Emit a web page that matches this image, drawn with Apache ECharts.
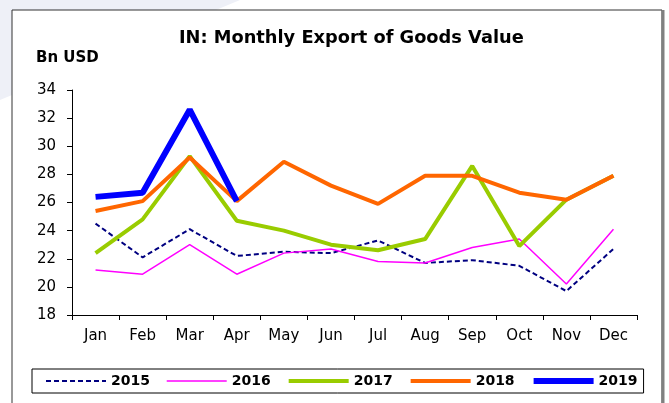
<!DOCTYPE html>
<html>
<head>
<meta charset="utf-8">
<script src="https://cdn.jsdelivr.net/npm/echarts@6/dist/echarts.min.js"></script>
<style>
  html, body { margin: 0; padding: 0; background: #fff; }
  #chart { width: 669px; height: 403px; }
</style>
</head>
<body>
<div id="chart"></div>
<script>
const months = ['Jan', 'Feb', 'Mar', 'Apr', 'May', 'Jun', 'Jul', 'Aug', 'Sep', 'Oct', 'Nov', 'Dec']
const yTicks = { min: 18, max: 34, step: 2 }
const y2015 = [24.5, 22.1, 24.1, 22.2, 22.5, 22.4, 23.3, 21.7, 21.9, 21.5, 19.7, 22.7]
const y2016 = [21.2, 20.9, 23.0, 20.9, 22.4, 22.7, 21.8, 21.7, 22.8, 23.4, 20.2, 24.1]
const y2017 = [22.4, 24.8, 29.3, 24.7, 24.0, 23.0, 22.6, 23.4, 28.6, 22.9, 26.2, 27.9]
const y2018 = [25.4, 26.1, 29.2, 26.1, 28.9, 27.2, 25.9, 27.9, 27.9, 26.7, 26.2, 27.9]
const y2019 = [26.4, 26.7, 32.6, 26.1]

const font = 'DejaVu Sans'

const chart = echarts.init(document.getElementById('chart'), null, { renderer: 'canvas' })

const option = {
  animation: false,
  backgroundColor: '#fff',
  textStyle: { fontFamily: font, color: '#000' },
  graphic: [
    // pale slide background peeking out at the top-left
    {
      type: 'polygon',
      z: -10,
      shape: { points: [[0, 0], [240, 0], [0, 100]] },
      style: { fill: '#eef0f7' }
    },
    {
      type: 'rect',
      z: -5,
      shape: { x: 12, y: 10, width: 650, height: 420 },
      style: { fill: '#fff', stroke: '#333', lineWidth: 1 }
    },
    {
      type: 'line',
      z: -4,
      shape: { x1: 663, y1: 10, x2: 663, y2: 403 },
      style: { stroke: '#808080', lineWidth: 3 }
    }
  ],
  title: [
    {
      text: 'IN: Monthly Export of Goods Value',
      left: 179,
      top: 29,
      padding: 0,
      textStyle: { fontFamily: font, fontSize: 17.8, fontWeight: 'bold', color: '#000' }
    },
    {
      text: 'Bn USD',
      left: 36,
      top: 51,
      padding: 0,
      textStyle: { fontFamily: font, fontSize: 15, fontWeight: 'bold', color: '#000' }
    }
  ],
  legend: {
    left: 32,
    top: 369,
    padding: [5, 6, 5, 13],
    itemGap: 16,
    itemWidth: 60,
    itemHeight: 14,
    borderColor: '#000',
    borderWidth: 1,
    itemStyle: { opacity: 0 },
    textStyle: { fontFamily: font, fontSize: 14, fontWeight: 'bold', color: '#000' },
    data: [
      { name: '2015', lineStyle: { width: 2, type: [5, 3] } },
      { name: '2016', lineStyle: { width: 1.5 } },
      { name: '2017', lineStyle: { width: 4 } },
      { name: '2018', lineStyle: { width: 4 } },
      { name: '2019', lineStyle: { width: 6 } }
    ]
  },
  grid: {
    left: 72,
    right: 32,
    top: 90,
    bottom: 88,
    containLabel: false
  },
  xAxis: {
    type: 'category',
    data: months,
    boundaryGap: true,
    axisLine: { lineStyle: { color: '#000', width: 1 } },
    axisTick: { show: true, inside: false, length: 5, alignWithLabel: false, lineStyle: { color: '#000' } },
    axisLabel: { color: '#000', fontSize: 15, fontFamily: font, margin: 14, interval: 0 },
    splitLine: { show: false }
  },
  yAxis: {
    type: 'value',
    min: yTicks.min,
    max: yTicks.max,
    interval: yTicks.step,
    axisLine: { show: true, lineStyle: { color: '#000', width: 1 } },
    axisTick: { show: true, inside: false, length: 5, lineStyle: { color: '#000' } },
    axisLabel: { color: '#000', fontSize: 15, fontFamily: font, margin: 16 },
    splitLine: { show: false }
  },
  series: [
    {
      name: '2015',
      type: 'line',
      data: y2015,
      showSymbol: false,
      symbol: 'none',
      lineStyle: { color: '#000080', width: 2, type: [5, 3] },
      itemStyle: { color: '#000080' }
    },
    {
      name: '2016',
      type: 'line',
      data: y2016,
      showSymbol: false,
      symbol: 'none',
      lineStyle: { color: '#ff00ff', width: 1.5 },
      itemStyle: { color: '#ff00ff' }
    },
    {
      name: '2017',
      type: 'line',
      data: y2017,
      showSymbol: false,
      symbol: 'none',
      lineStyle: { color: '#99cc00', width: 4 },
      itemStyle: { color: '#99cc00' }
    },
    {
      name: '2018',
      type: 'line',
      data: y2018,
      showSymbol: false,
      symbol: 'none',
      lineStyle: { color: '#ff6600', width: 4 },
      itemStyle: { color: '#ff6600' }
    },
    {
      name: '2019',
      type: 'line',
      data: y2019,
      showSymbol: false,
      symbol: 'none',
      lineStyle: { color: '#0000ff', width: 6 },
      itemStyle: { color: '#0000ff' }
    }
  ]
}

chart.setOption(option)
</script>
</body>
</html>
